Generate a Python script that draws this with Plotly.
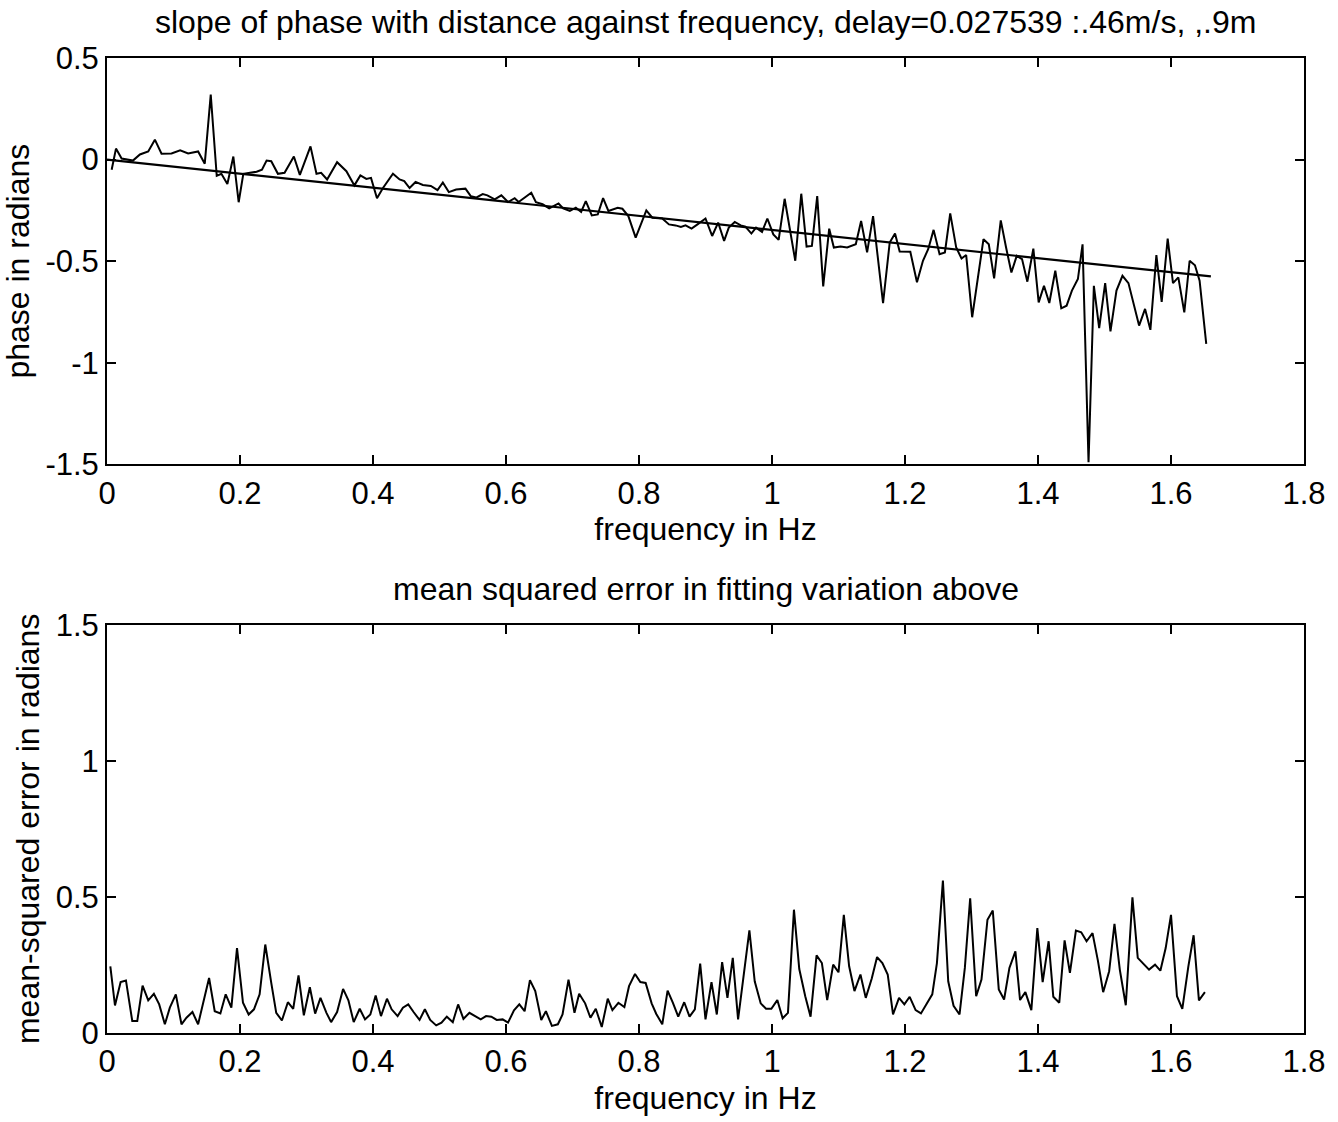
import plotly.graph_objects as go
from plotly.subplots import make_subplots

# ---- top panel: measured phase vs frequency ----
phase_freq = [0.007, 0.0135, 0.022, 0.039, 0.0495, 0.062, 0.072, 0.082, 0.097, 0.11, 0.122, 0.137, 0.147, 0.156,
              0.165, 0.172, 0.181, 0.19, 0.198, 0.205, 0.215, 0.225, 0.233, 0.24, 0.247, 0.257, 0.267, 0.281, 0.29,
              0.306, 0.315, 0.322, 0.331, 0.346, 0.36, 0.372, 0.381, 0.39, 0.397, 0.406, 0.415, 0.43, 0.44, 0.447,
              0.455, 0.464, 0.475, 0.487, 0.497, 0.505, 0.514, 0.525, 0.539, 0.547, 0.555, 0.565, 0.572, 0.583,
              0.593, 0.603, 0.613, 0.619, 0.638, 0.645, 0.655, 0.665, 0.679, 0.686, 0.696, 0.705, 0.713, 0.72,
              0.729, 0.738, 0.746, 0.754, 0.768, 0.775, 0.784, 0.795, 0.811, 0.82, 0.835, 0.845, 0.855, 0.863,
              0.87, 0.879, 0.888, 0.9, 0.91, 0.919, 0.928, 0.935, 0.944, 0.953, 0.96, 0.969, 0.976, 0.985, 0.993,
              1.002, 1.01, 1.019, 1.035, 1.044, 1.052, 1.06, 1.068, 1.077, 1.086, 1.093, 1.103, 1.113, 1.126,
              1.134, 1.143, 1.152, 1.167, 1.177, 1.185, 1.192, 1.208, 1.218, 1.227, 1.235, 1.243, 1.252, 1.26,
              1.268, 1.277, 1.285, 1.292, 1.301, 1.318, 1.326, 1.334, 1.344, 1.352, 1.36, 1.368, 1.376, 1.384,
              1.393, 1.401, 1.409, 1.417, 1.426, 1.435, 1.443, 1.451, 1.46, 1.467, 1.476, 1.484, 1.492, 1.501,
              1.509, 1.518, 1.527, 1.536, 1.552, 1.561, 1.569, 1.578, 1.586, 1.595, 1.603, 1.611, 1.62, 1.628,
              1.636, 1.643, 1.653]
phase_vals = [-0.05, 0.054, 0.005, -0.005, 0.025, 0.04, 0.098, 0.029, 0.03, 0.046, 0.03, 0.04, -0.02, 0.32,
              -0.08, -0.07, -0.12, 0.015, -0.21, -0.07, -0.065, -0.06, -0.05, -0.005, -0.008, -0.07, -0.065, 0.015,
              -0.075, 0.065, -0.07, -0.065, -0.098, -0.013, -0.057, -0.127, -0.078, -0.095, -0.09, -0.19, -0.14,
              -0.07, -0.098, -0.106, -0.14, -0.11, -0.125, -0.13, -0.15, -0.113, -0.16, -0.147, -0.143, -0.18,
              -0.187, -0.17, -0.176, -0.196, -0.176, -0.209, -0.19, -0.209, -0.163, -0.21, -0.22, -0.24, -0.216,
              -0.24, -0.253, -0.237, -0.258, -0.204, -0.275, -0.27, -0.19, -0.253, -0.237, -0.242, -0.278, -0.384,
              -0.25, -0.286, -0.29, -0.319, -0.324, -0.332, -0.324, -0.34, -0.319, -0.29, -0.376, -0.31, -0.4,
              -0.335, -0.307, -0.324, -0.33, -0.364, -0.335, -0.356, -0.29, -0.368, -0.395, -0.193, -0.498,
              -0.168, -0.428, -0.425, -0.18, -0.624, -0.34, -0.433, -0.428, -0.433, -0.417, -0.302, -0.457,
              -0.278, -0.707, -0.408, -0.364, -0.452, -0.454, -0.604, -0.498, -0.44, -0.346, -0.466, -0.457,
              -0.265, -0.433, -0.487, -0.47, -0.776, -0.392, -0.417, -0.585, -0.299, -0.433, -0.556, -0.474,
              -0.49, -0.601, -0.438, -0.703, -0.621, -0.706, -0.547, -0.732, -0.719, -0.645, -0.588, -0.417,
              -1.49, -0.621, -0.83, -0.608, -0.846, -0.645, -0.572, -0.608, -0.817, -0.735, -0.838, -0.47, -0.7,
              -0.389, -0.608, -0.58, -0.752, -0.498, -0.52, -0.596, -0.907]

# fitted straight line
fit_freq = [0.0, 1.66]
fit_vals = [0.0, -0.575]

# ---- bottom panel: mean squared error ----
mse_freq = [0.005, 0.012, 0.0205, 0.0285, 0.038, 0.0455, 0.0535, 0.062, 0.0705, 0.0785, 0.087, 0.0945, 0.1035,
            0.112, 0.1195, 0.1285, 0.137, 0.1455, 0.1535, 0.162, 0.1705, 0.1785, 0.187, 0.1955, 0.2045, 0.213,
            0.221, 0.2295, 0.238, 0.247, 0.2545, 0.263, 0.272, 0.28, 0.288, 0.296, 0.305, 0.313, 0.321, 0.33,
            0.337, 0.346, 0.355, 0.363, 0.371, 0.38, 0.388, 0.396, 0.404, 0.412, 0.421, 0.428, 0.437, 0.445,
            0.453, 0.461, 0.47, 0.478, 0.486, 0.495, 0.503, 0.511, 0.52, 0.528, 0.536, 0.545, 0.553, 0.562,
            0.57, 0.578, 0.586, 0.595, 0.603, 0.612, 0.62, 0.628, 0.636, 0.644, 0.653, 0.66, 0.669, 0.678,
            0.685, 0.694, 0.703, 0.71, 0.719, 0.727, 0.735, 0.744, 0.753, 0.76, 0.769, 0.778, 0.785, 0.794,
            0.802, 0.81, 0.819, 0.826, 0.835, 0.843, 0.851, 0.859, 0.868, 0.876, 0.884, 0.892, 0.9, 0.909,
            0.917, 0.925, 0.933, 0.941, 0.949, 0.958, 0.966, 0.974, 0.983, 0.991, 0.999, 1.008, 1.016, 1.024,
            1.033, 1.041, 1.05, 1.058, 1.067, 1.075, 1.083, 1.092, 1.1, 1.108, 1.116, 1.124, 1.133, 1.141,
            1.15, 1.158, 1.166, 1.174, 1.182, 1.191, 1.199, 1.207, 1.216, 1.224, 1.232, 1.241, 1.248, 1.257,
            1.265, 1.273, 1.282, 1.29, 1.298, 1.307, 1.315, 1.324, 1.332, 1.341, 1.349, 1.357, 1.366, 1.373,
            1.381, 1.39, 1.399, 1.407, 1.416, 1.423, 1.432, 1.44, 1.448, 1.457, 1.465, 1.473, 1.482, 1.49,
            1.498, 1.507, 1.515, 1.523, 1.532, 1.542, 1.55, 1.558, 1.567, 1.576, 1.584, 1.592, 1.6, 1.609,
            1.617, 1.626, 1.634, 1.642, 1.651]
mse_vals = [0.245, 0.101, 0.187, 0.193, 0.044, 0.044, 0.174, 0.12, 0.144, 0.105, 0.032, 0.093, 0.142, 0.032,
            0.056, 0.077, 0.032, 0.117, 0.202, 0.08, 0.072, 0.142, 0.093, 0.312, 0.111, 0.068, 0.087, 0.142,
            0.325, 0.184, 0.074, 0.046, 0.113, 0.089, 0.212, 0.065, 0.168, 0.071, 0.129, 0.074, 0.04, 0.077,
            0.162, 0.12, 0.04, 0.089, 0.05, 0.068, 0.138, 0.062, 0.126, 0.087, 0.062, 0.093, 0.105, 0.077,
            0.048, 0.087, 0.048, 0.028, 0.038, 0.06, 0.04, 0.105, 0.052, 0.074, 0.062, 0.05, 0.062, 0.06,
            0.048, 0.05, 0.038, 0.083, 0.105, 0.08, 0.194, 0.154, 0.048, 0.08, 0.026, 0.032, 0.068, 0.196,
            0.074, 0.144, 0.109, 0.056, 0.089, 0.022, 0.126, 0.084, 0.111, 0.095, 0.172, 0.217, 0.187, 0.184,
            0.109, 0.07, 0.032, 0.156, 0.111, 0.06, 0.113, 0.06, 0.087, 0.255, 0.05, 0.187, 0.068, 0.26,
            0.129, 0.276, 0.05, 0.227, 0.377, 0.19, 0.109, 0.089, 0.089, 0.121, 0.054, 0.074, 0.453, 0.235,
            0.135, 0.06, 0.285, 0.257, 0.121, 0.251, 0.223, 0.434, 0.245, 0.154, 0.215, 0.129, 0.2, 0.279,
            0.257, 0.215, 0.068, 0.129, 0.105, 0.133, 0.084, 0.072, 0.105, 0.142, 0.257, 0.56, 0.19, 0.1,
            0.068, 0.239, 0.495, 0.135, 0.196, 0.416, 0.45, 0.16, 0.123, 0.239, 0.3, 0.121, 0.15, 0.084, 0.385,
            0.187, 0.337, 0.133, 0.111, 0.34, 0.221, 0.376, 0.37, 0.337, 0.367, 0.267, 0.15, 0.227, 0.401,
            0.233, 0.102, 0.498, 0.276, 0.254, 0.233, 0.251, 0.229, 0.312, 0.434, 0.135, 0.089, 0.243, 0.359,
            0.12, 0.15]

x_ticks = [0, 0.2, 0.4, 0.6, 0.8, 1, 1.2, 1.4, 1.6, 1.8]
x_tick_text = ["0", "0.2", "0.4", "0.6", "0.8", "1", "1.2", "1.4", "1.6", "1.8"]
top_y_ticks = [-1.5, -1, -0.5, 0, 0.5]
top_y_text = ["-1.5", "-1", "-0.5", "0", "0.5"]
bot_y_ticks = [0, 0.5, 1, 1.5]
bot_y_text = ["0", "0.5", "1", "1.5"]

FONT = "Liberation Sans, Arial, Helvetica, sans-serif"
FS = 32
TFS = 31

W, H = 1338, 1122
ML, MR, MT, MB = 107, 32, 58, 85
plot_h = H - MT - MB
top_lo = (H - MB - 466) / plot_h
bot_hi = (H - MB - 627) / plot_h

fig = make_subplots(rows=2, cols=1)
fig.add_trace(go.Scatter(x=phase_freq, y=phase_vals, mode="lines",
                         line=dict(color="black", width=2), showlegend=False), row=1, col=1)
fig.add_trace(go.Scatter(x=fit_freq, y=fit_vals, mode="lines",
                         line=dict(color="black", width=2.2), showlegend=False), row=1, col=1)
fig.add_trace(go.Scatter(x=mse_freq, y=mse_vals, mode="lines",
                         line=dict(color="black", width=2), showlegend=False), row=2, col=1)

axis_common = dict(showgrid=False, zeroline=False, showline=True, linecolor="black", linewidth=2,
                   mirror="ticks", ticks="inside", ticklen=9, tickwidth=1.5, tickcolor="black",
                   tickfont=dict(family=FONT, size=TFS, color="black"))

fig.update_layout(
    width=W, height=H, paper_bgcolor="white", plot_bgcolor="white",
    margin=dict(l=ML, r=MR, t=MT, b=MB),
    font=dict(family=FONT, size=FS, color="black"),
    xaxis=dict(domain=[0, 1], range=[0, 1.8], tickvals=x_ticks, ticktext=x_tick_text,
               title=dict(text="frequency in Hz", standoff=8, font=dict(size=FS)), **axis_common),
    yaxis=dict(domain=[top_lo, 1], range=[-1.5, 0.5], tickvals=top_y_ticks, ticktext=top_y_text,
               title=dict(text="phase in radians", standoff=6, font=dict(size=FS)), **axis_common),
    xaxis2=dict(domain=[0, 1], range=[0, 1.8], tickvals=x_ticks, ticktext=x_tick_text,
                title=dict(text="frequency in Hz", standoff=8, font=dict(size=FS)), **axis_common),
    yaxis2=dict(domain=[0, bot_hi], range=[0, 1.5], tickvals=bot_y_ticks, ticktext=bot_y_text,
                title=dict(text="mean-squared error in radians", standoff=6, font=dict(size=FS)), **axis_common),
    annotations=[
        dict(text="slope of phase with distance against frequency, delay=0.027539 :.46m/s, ,.9m",
             xref="paper", yref="paper", x=0.5, y=1, yshift=16, xanchor="center", yanchor="bottom",
             showarrow=False, font=dict(family=FONT, size=FS, color="black")),
        dict(text="mean squared error in fitting variation above",
             xref="paper", yref="paper", x=0.5, y=bot_hi, yshift=16, xanchor="center", yanchor="bottom",
             showarrow=False, font=dict(family=FONT, size=FS, color="black")),
    ],
)

fig.write_html("out.html")
